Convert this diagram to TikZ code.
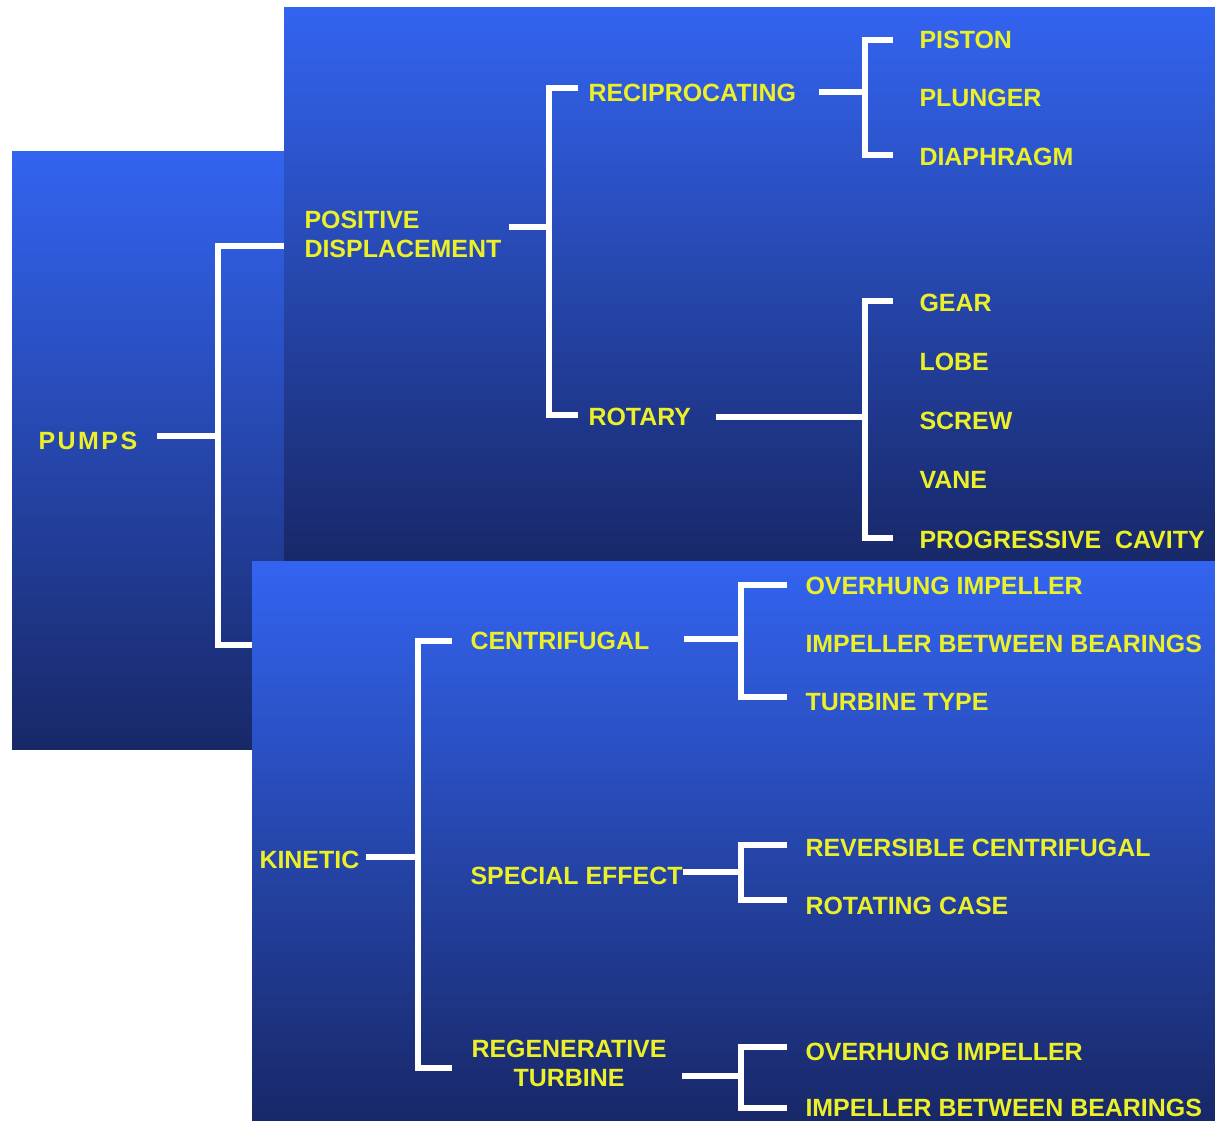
\documentclass[tikz,border=0pt]{standalone}
\usepackage{fontspec}
\setmainfont{Liberation Sans}
\usepackage{xcolor}
\usepackage{tikz}
\usetikzlibrary{calc}

\definecolor{slidetop}{RGB}{51,100,240}
\definecolor{slidebot}{RGB}{24,40,104}
\definecolor{labyellow}{RGB}{236,240,40}

\begin{document}
\begin{tikzpicture}[x=0.02cm,y=-0.02cm,-,semithick]
	\tikzstyle{panel}=[top color=slidetop, bottom color=slidebot, draw=none]
	\tikzstyle{lab}=[text=labyellow, font=\fontsize{14.2}{16.4}\selectfont\bfseries, inner sep=0pt, anchor=west]
	\tikzstyle{wire}=[draw=white, line width=3.4pt]
	\useasboundingbox (0,0) rectangle (1215,1121);

	% pumps
	\shade[panel] (12,152) rectangle (290,750);
	\node[lab] 		(pumps) at (38,441)            {\addfontfeature{LetterSpace=10}PUMPS};
	\coordinate (pj) at (218,436);
	\coordinate (pt) at (300,246);
	\coordinate (pb) at (270,645);
	\draw[wire, shorten <=0.38cm] (pumps.east |- pj) -- (pj);
	\draw[wire] (pt) -| (pj) |- (pb);

	% positive displacement
	\shade[panel] (284,8) rectangle (1215,562);
	\node[lab, align=left] 	(posdisp) at (304,234.5)  {POSITIVE\\DISPLACEMENT};
	\node[lab] 		(recip) at (588,93)            {RECIPROCATING};
	\node[lab] 		(rotary) at (588,417)          {ROTARY};
	\node[lab] 		(piston) at (919,40)           {PISTON};
	\node[lab] 		(plunger) at (919,98)          {PLUNGER};
	\node[lab] 		(diaphragm) at (919,157)       {DIAPHRAGM};
	\node[lab] 		(gear) at (919,303)            {GEAR};
	\node[lab] 		(lobe) at (919,362)            {LOBE};
	\node[lab] 		(screw) at (919,421)           {SCREW};
	\node[lab] 		(vane) at (919,480)            {VANE};
	\node[lab] 		(progcav) at (919,540)         {PROGRESSIVE\ \ CAVITY};

	\coordinate (dj) at (549,227);
	\coordinate (dt) at (578,88);
	\coordinate (db) at (578,415);
	\coordinate (rj) at (865,92);
	\coordinate (rt) at (893,40);
	\coordinate (rb) at (893,155);
	\coordinate (tj) at (865,417);
	\coordinate (tt) at (893,301);
	\coordinate (tb) at (893,538);
	\draw[wire, shorten <=0.14cm] (posdisp.east |- dj) -- (dj);
	\draw[wire] (dt) -| (dj) |- (db);
	\draw[wire, shorten <=0.44cm] (recip.east |- rj) -- (rj);
	\draw[wire] (rt) -| (rj) |- (rb);
	\draw[wire, shorten <=0.48cm] (rotary.east |- tj) -- (tj);
	\draw[wire] (tt) -| (tj) |- (tb);

	% kinetic
	\shade[panel] (252,562) rectangle (1215,1121);
	\node[lab] 		(kinetic) at (259,860)         {KINETIC};
	\node[lab] 		(centrif) at (470,641)         {CENTRIFUGAL};
	\node[lab] 		(special) at (470,876)         {SPECIAL EFFECT};
	\node[lab, anchor=center, align=center] (regen) at (569,1063.5) {REGENERATIVE\\TURBINE};
	\node[lab] 		(overhungA) at (805,586)       {OVERHUNG IMPELLER};
	\node[lab] 		(betweenA) at (805,644)        {IMPELLER BETWEEN BEARINGS};
	\node[lab] 		(turbtype) at (805,702)        {TURBINE TYPE};
	\node[lab] 		(reversible) at (805,848)      {REVERSIBLE CENTRIFUGAL};
	\node[lab] 		(rotcase) at (805,906)         {ROTATING CASE};
	\node[lab] 		(overhungB) at (805,1052)      {OVERHUNG IMPELLER};
	\node[lab] 		(betweenB) at (805,1108)       {IMPELLER BETWEEN BEARINGS};

	\coordinate (kj) at (418,857);
	\coordinate (kt) at (452,641);
	\coordinate (kb) at (452,1068);
	\coordinate (cj) at (741,639);
	\coordinate (ct) at (787,585);
	\coordinate (cb) at (787,697);
	\coordinate (sj) at (741,872);
	\coordinate (st) at (787,845);
	\coordinate (sb) at (787,900);
	\coordinate (gj) at (741,1076);
	\coordinate (gt) at (787,1047);
	\coordinate (gb) at (787,1108);
	\draw[wire, shorten <=0.12cm] (kinetic.east |- kj) -- (kj);
	\draw[wire] (kt) -| (kj) |- (kb);
	\draw[wire, shorten <=0.68cm] (centrif.east |- cj) -- (cj);
	\draw[wire] (ct) -| (cj) |- (cb);
	\draw[wire] (special.east |- sj) -- (sj);
	\draw[wire] (st) -| (sj) |- (sb);
	\draw[wire, shorten <=0.3cm] (regen.east |- gj) -- (gj);
	\draw[wire] (gt) -| (gj) |- (gb);
\end{tikzpicture}
\end{document}
